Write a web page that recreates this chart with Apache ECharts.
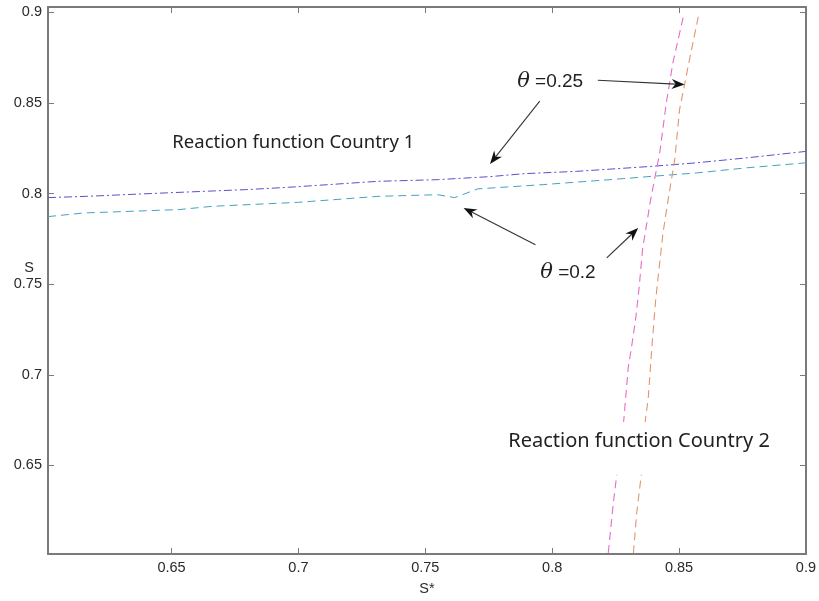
<!DOCTYPE html>
<html>
<head>
<meta charset="utf-8">
<script src="https://cdn.jsdelivr.net/npm/echarts@6/dist/echarts.min.js"></script>
<style>html,body{margin:0;padding:0;background:#fff}#c{width:819px;height:601px}</style>
</head>
<body>
<div id="c"></div>
<script>
// ---- data ----
const xTicks = [0.65, 0.7, 0.75, 0.8, 0.85, 0.9];
const yTicks = [0.65, 0.7, 0.75, 0.8, 0.85, 0.9];
const xRange = [0.6013, 0.9];
const yRange = [0.6011, 0.9030];

// Reaction function Country 1, theta = 0.25 (dash-dot)
const c1Theta025 = [[0.6013,0.7978],[0.6165,0.7985],[0.6478,0.8004],[0.6792,0.8022],[0.6962,0.8035],[0.7314,0.8068],[0.7549,0.8077],[0.7757,0.8094],[0.7889,0.8110],[0.8097,0.8123],[0.8398,0.8151],[0.8568,0.8170],[0.8764,0.8197],[0.9000,0.8233]];
// Reaction function Country 1, theta = 0.2 (dashed)
const c1Theta02 = [[0.6013,0.7873],[0.6151,0.7893],[0.6530,0.7912],[0.6661,0.7930],[0.7000,0.7952],[0.7314,0.7985],[0.7549,0.7994],[0.7616,0.7978],[0.7706,0.8026],[0.7967,0.8050],[0.8228,0.8077],[0.8398,0.8096],[0.8568,0.8114],[0.8764,0.8142],[0.9000,0.8170]];
// Reaction function Country 2, theta = 0.2 (pink dashed)
const c2Theta02 = [[0.8221,0.6017],[0.8241,0.6293],[0.8254,0.6442],[0.8282,0.6746],[0.8290,0.6878],[0.8300,0.7044],[0.8313,0.7155],[0.8330,0.7320],[0.8343,0.7486],[0.8356,0.7691],[0.8388,0.7967],[0.8424,0.8227],[0.8450,0.8503],[0.8476,0.8724],[0.8517,0.8978]];
// Reaction function Country 2, theta = 0.25 (orange dashed)
const c2Theta025 = [[0.8320,0.6015],[0.8333,0.6236],[0.8352,0.6457],[0.8365,0.6724],[0.8379,0.6878],[0.8395,0.7193],[0.8408,0.7414],[0.8422,0.7597],[0.8437,0.7785],[0.8457,0.7967],[0.8483,0.8188],[0.8502,0.8464],[0.8539,0.8724],[0.8576,0.8978]];

// annotations (data coordinates)
const labelC1 = {text:'Reaction function Country 1', at:[0.6503,0.8282], size:18.5};
const labelC2 = {text:'Reaction function Country 2', at:[0.7827,0.6635], size:20};
const labelT025 = {theta:'θ', text:' =0.25', at:[0.7862,0.8619]};
const labelT02 = {theta:'θ', text:' =0.2', at:[0.7953,0.7564]};
const arrows = [
  [[0.8180,0.8626],[0.8522,0.8602]],
  [[0.7951,0.8510],[0.7755,0.8164]],
  [[0.7934,0.7718],[0.7651,0.7921]],
  [[0.8215,0.7645],[0.8339,0.7810]]
];
const gapBox = [[0.7800,0.6740],[0.8900,0.6448]];

// ---- chart ----
const chart = echarts.init(document.getElementById('c'), null, {renderer:'canvas'});
const fmt = v => String(+(+v).toFixed(2));
const axisColor = '#7a7a7a';
const labelFont = {fontFamily:'"Liberation Sans", Arial, sans-serif', fontSize:14.5, color:'#2a2a2a'};
function axisBase(extra){
  return Object.assign({
    type:'value',
    splitLine:{show:false},
    nameMoveOverlap:false,
    axisLine:{show:true, onZero:false, lineStyle:{color:axisColor, width:2}},
  }, extra);
}
const option = {
  animation:false,
  backgroundColor:'#fff',
  grid:{left:48, right:8.5, top:7, bottom:47, containLabel:false},
  xAxis:[
    axisBase({min:xRange[0], max:xRange[1], position:'bottom',
      name:'S*', nameLocation:'middle', nameGap:27,
      nameTextStyle:Object.assign({}, labelFont),
      axisTick:{show:true, inside:true, length:6, customValues:xTicks, lineStyle:{color:axisColor}},
      axisLabel:Object.assign({customValues:xTicks, formatter:fmt, margin:6}, labelFont)}),
    axisBase({min:xRange[0], max:xRange[1], position:'top',
      axisTick:{show:true, inside:true, length:6, customValues:xTicks, lineStyle:{color:axisColor}},
      axisLabel:{show:false}})
  ],
  yAxis:[
    axisBase({min:yRange[0], max:yRange[1], position:'left',
      name:'S', nameLocation:'middle', nameGap:14, nameRotate:0,
      nameTextStyle:Object.assign({align:'right', verticalAlign:'bottom', padding:[0,0,5,0]}, labelFont),
      axisTick:{show:true, inside:true, length:6, customValues:yTicks, lineStyle:{color:axisColor}},
      axisLabel:Object.assign({customValues:yTicks, formatter:fmt, margin:6}, labelFont)}),
    axisBase({min:yRange[0], max:yRange[1], position:'right',
      axisTick:{show:true, inside:true, length:6, customValues:yTicks, lineStyle:{color:axisColor}},
      axisLabel:{show:false}})
  ],
  series:[
    {type:'line', data:c1Theta02, showSymbol:false, symbol:'none', lineStyle:{color:'#45a2c2', width:1, type:[8,5]}},
    {type:'line', data:c1Theta025, showSymbol:false, symbol:'none', lineStyle:{color:'#5a4fd0', width:1, type:[8,3,2,3]}},
    {type:'line', data:c2Theta02, showSymbol:false, symbol:'none', lineStyle:{color:'#e46cc8', width:1.1, type:[8,5]}},
    {type:'line', data:c2Theta025, showSymbol:false, symbol:'none', lineStyle:{color:'#e0956e', width:1.1, type:[8,5]}}
  ]
};
chart.setOption(option);

const P = p => chart.convertToPixel({xAxisIndex:0, yAxisIndex:0}, p);
const els = [];
const g0 = P(gapBox[0]), g1 = P(gapBox[1]);
els.push({type:'rect', z:50, shape:{x:g0[0], y:g0[1], width:g1[0]-g0[0], height:g1[1]-g0[1]}, style:{fill:'#fff'}});
[labelC1, labelC2].forEach(l => {
  const p = P(l.at);
  els.push({type:'text', z:60, x:p[0], y:p[1], style:{text:l.text, font:l.size+'px "Noto Sans", "Open Sans", Arial, sans-serif', fill:'#222', verticalAlign:'middle', align:'left'}});
});
[labelT025, labelT02].forEach(l => {
  const p = P(l.at);
  els.push({type:'text', z:60, x:p[0], y:p[1], style:{
    text:'{i|'+l.theta+'}{n|'+l.text+'}', verticalAlign:'middle', align:'left',
    rich:{i:{font:'italic 21px "DejaVu Serif", "Liberation Serif", serif', fill:'#222'},
          n:{font:'19px "Liberation Sans", Arial, sans-serif', fill:'#222'}}}});
});
arrows.forEach(a => {
  const s = P(a[0]), t = P(a[1]);
  const dx = t[0]-s[0], dy = t[1]-s[1], L = Math.hypot(dx,dy);
  const ux = dx/L, uy = dy/L, nx = -uy, ny = ux;
  const hl = 13, hw = 5, notch = 9;
  const base = [t[0]-ux*hl, t[1]-uy*hl];
  const mid = [t[0]-ux*notch, t[1]-uy*notch];
  els.push({type:'line', z:60, shape:{x1:s[0], y1:s[1], x2:mid[0], y2:mid[1]}, style:{stroke:'#333', lineWidth:1.1}});
  els.push({type:'polygon', z:61, shape:{points:[t, [base[0]+nx*hw, base[1]+ny*hw], mid, [base[0]-nx*hw, base[1]-ny*hw]]}, style:{fill:'#111'}});
});
chart.setOption({graphic:{elements:els}});
</script>
</body>
</html>
